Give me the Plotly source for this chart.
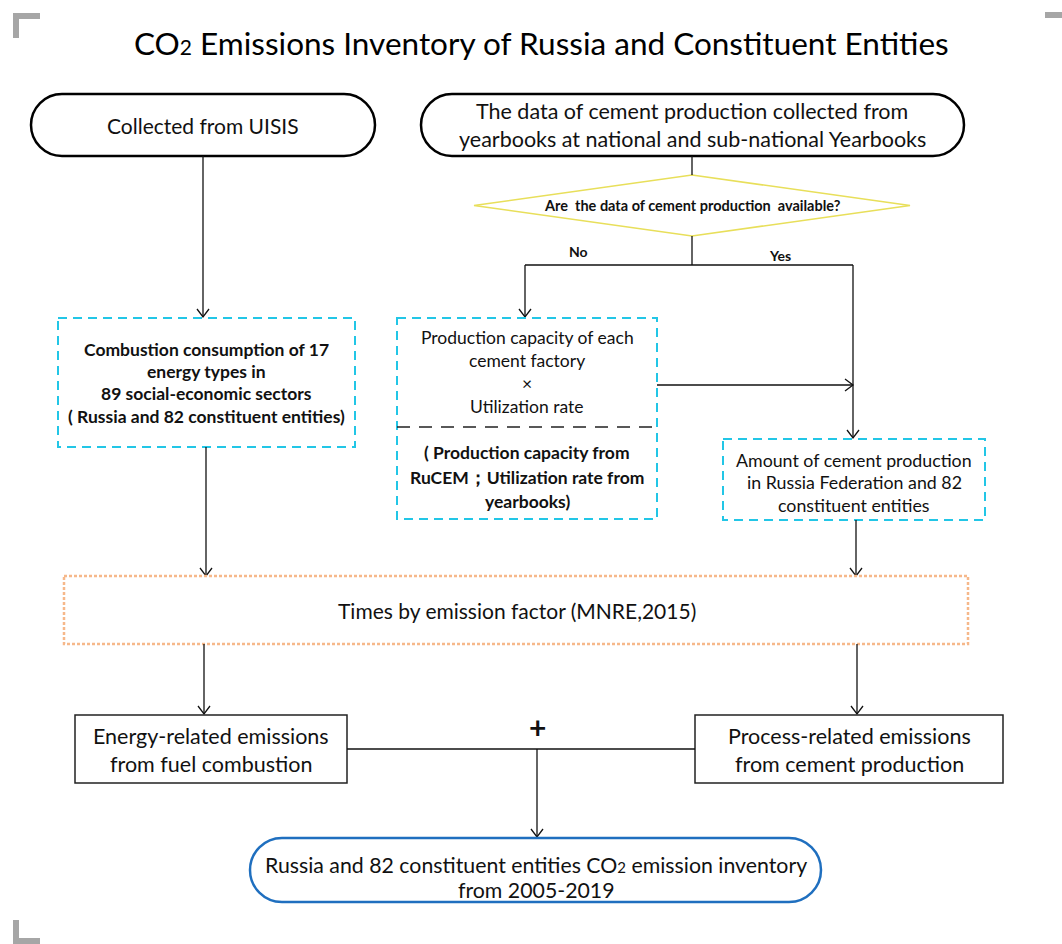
import plotly.graph_objects as go

W, H = 1062, 944
FONT = "Lato"

# ---- texts of the flowchart ----
title_text = "CO<span style='font-size:21px'>2</span> Emissions Inventory of Russia and Constituent Entities"
uisis_lines = ["Collected from UISIS"]
cement_src_lines = ["The data of cement production collected from",
                    "yearbooks at national and sub-national Yearbooks"]
question_text = "Are  the data of cement production  available?"
branch_labels = ["No", "Yes"]
combustion_lines = ["Combustion consumption of 17", "energy types in",
                    "89 social-economic sectors", "( Russia and 82 constituent entities)"]
capacity_lines = ["Production capacity of each", "cement factory", "×", "Utilization rate"]
capacity_src_lines = ["( Production capacity from", "RuCEM；Utilization rate from", "yearbooks)"]
amount_lines = ["Amount of cement production", "in Russia Federation and 82", "constituent entities"]
factor_lines = ["Times by emission factor (MNRE,2015)"]
energy_lines = ["Energy-related emissions", "from fuel combustion"]
process_lines = ["Process-related emissions", "from cement production"]
plus_sign = "+"
inventory_lines = ["Russia and 82 constituent entities CO<span style='font-size:15px'>2</span> emission inventory",
                   "from 2005-2019"]

# ---- geometry (pixels, y downwards) ----
boxes = {
    "uisis": (31, 94, 375, 156),
    "src": (421, 94, 964, 156),
    "comb": (58, 318, 355, 447),
    "cap": (397, 318, 657, 519),
    "amount": (723, 439, 985, 520),
    "factor": (64, 576, 968, 644),
    "energy": (75, 715, 347, 783),
    "process": (695, 715, 1003, 783),
    "inv": (250, 838, 821, 902),
}
diamond = (474, 175, 910, 236)

shapes = []
ann = []


def stadium(b, color, width):
    x0, y0, x1, y1 = b
    r = (y1 - y0) / 2
    ym = (y0 + y1) / 2
    k = 0.5523 * r
    p = (f"M {x0 + r},{y0} L {x1 - r},{y0} "
         f"C {x1 - r + k},{y0} {x1},{ym - k} {x1},{ym} "
         f"C {x1},{ym + k} {x1 - r + k},{y1} {x1 - r},{y1} "
         f"L {x0 + r},{y1} "
         f"C {x0 + r - k},{y1} {x0},{ym + k} {x0},{ym} "
         f"C {x0},{ym - k} {x0 + r - k},{y0} {x0 + r},{y0} Z")
    shapes.append(dict(type="path", path=p, line=dict(color=color, width=width)))


def rect(b, color, width, dash="solid"):
    x0, y0, x1, y1 = b
    shapes.append(dict(type="rect", x0=x0, y0=y0, x1=x1, y1=y1,
                       line=dict(color=color, width=width, dash=dash)))


def line(x0, y0, x1, y1, color="#111", width=1.3, dash="solid"):
    shapes.append(dict(type="line", x0=x0, y0=y0, x1=x1, y1=y1,
                       line=dict(color=color, width=width, dash=dash)))


def arrow(x0, y0, x1, y1):
    line(x0, y0, x1, y1)
    dx, dy = x1 - x0, y1 - y0
    n = (dx ** 2 + dy ** 2) ** 0.5
    ux, uy = dx / n, dy / n
    L, hw = 8, 6
    bx, by = x1 - ux * L, y1 - uy * L
    p = f"M {bx - uy * hw},{by + ux * hw} L {x1},{y1} L {bx + uy * hw},{by - ux * hw}"
    shapes.append(dict(type="path", path=p, line=dict(color="#111", width=1.3)))


def text_lines(lines, cx, ys, size, bold=False, color="#111"):
    for t, y in zip(lines, ys):
        ann.append(dict(x=cx, y=y, text=f"<b>{t}</b>" if bold else t, showarrow=False,
                        xanchor="center", yanchor="middle",
                        font=dict(family=FONT, size=size, color=color)))


# corner marks (drawn as filled rects so they are not clipped at the edge)
GRAY = "#a6a6a6"
corner_bars = [(13, 13, 40, 19), (13, 13, 19, 38), (1045, 12, 1062, 18),
               (13, 920, 19, 944), (13, 938, 40, 944)]
for bx0, by0, bx1, by1 in corner_bars:
    shapes.append(dict(type="rect", x0=bx0, y0=by0, x1=bx1, y1=by1,
                       fillcolor=GRAY, line=dict(width=0)))

# title
ann.append(dict(x=541, y=43, text=title_text, showarrow=False, xanchor="center", yanchor="middle",
                font=dict(family=FONT, size=31.5, color="#000")))

# top terminals
stadium(boxes["uisis"], "#000", 2.5)
stadium(boxes["src"], "#000", 2.5)
text_lines(uisis_lines, 203, [125], 21)
text_lines(cement_src_lines, 692, [111, 139], 21.5)

# decision
x0, y0, x1, y1 = diamond
cx, cy = (x0 + x1) / 2, (y0 + y1) / 2
shapes.append(dict(type="path", path=f"M {cx},{y0} L {x1},{cy} L {cx},{y1} L {x0},{cy} Z",
                   line=dict(color="#e8df5a", width=1.6)))
text_lines([question_text], cx, [cy], 14.5, bold=True)
line(cx, 156, cx, y0)
line(cx, y1, cx, 265)
line(525, 265, 853, 265)
text_lines([branch_labels[0]], 578, [251], 14, bold=True)
text_lines([branch_labels[1]], 780, [255], 14, bold=True)
arrow(525, 265, 525, 317)
arrow(853, 265, 853, 438)

# left column
arrow(203, 156, 203, 317)
CYAN = "#22c6e6"
rect(boxes["comb"], CYAN, 2, "9px,6px")
text_lines(combustion_lines, 206, [349, 371, 393, 416], 17.5, bold=True)
arrow(206, 447, 206, 576)

# capacity box
rect(boxes["cap"], CYAN, 2, "9px,6px")
line(397, 427, 657, 427, color="#222", width=1.4, dash="13px,9px")
text_lines(capacity_lines, 527, [337, 360, 383, 406], 17.5)
text_lines(capacity_src_lines, 527, [452, 477, 501], 17.5, bold=True)
arrow(657, 385, 853, 385)

# amount box
rect(boxes["amount"], CYAN, 2, "9px,6px")
text_lines(amount_lines, 854, [460, 482, 505], 17.8)
arrow(856, 520, 856, 576)

# emission factor
rect(boxes["factor"], "#f6b88a", 2.5, "3px,2px")
text_lines(factor_lines, 517, [610], 21)
arrow(204, 644, 204, 714)
arrow(857, 644, 857, 714)

# emissions boxes
rect(boxes["energy"], "#222", 1.5)
rect(boxes["process"], "#222", 1.5)
text_lines(energy_lines, 211, [736, 764], 21.5)
text_lines(process_lines, 849, [736, 764], 21.5)
line(347, 749, 695, 749)
text_lines([plus_sign], 537, [727], 30, bold=True)
arrow(537, 749, 537, 837)

# inventory
stadium(boxes["inv"], "#1f6fbf", 2.5)
text_lines(inventory_lines, 536, [865, 890], 21.3)

fig = go.Figure()
fig.update_layout(
    width=W, height=H, margin=dict(l=0, r=0, t=0, b=0),
    paper_bgcolor="white", plot_bgcolor="white",
    xaxis=dict(range=[0, W], visible=False, fixedrange=True),
    yaxis=dict(range=[H, 0], visible=False, fixedrange=True),
    shapes=shapes, annotations=ann, showlegend=False,
)
# drop the page's default 8px body margin so the figure fills the window
fig.write_html("out.html", config={"displayModeBar": False},
               post_script="document.body.style.margin='0';document.body.style.overflow='hidden';")
